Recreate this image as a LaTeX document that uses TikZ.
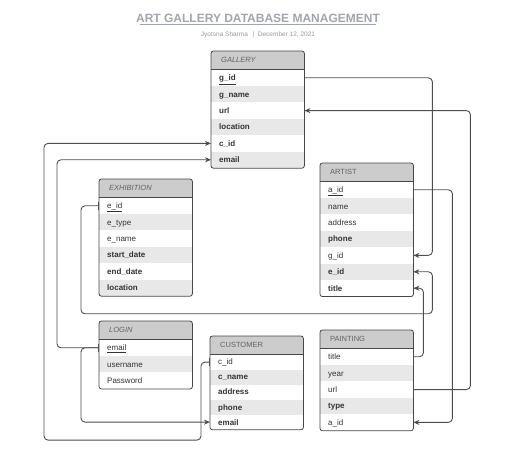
\documentclass[tikz,border=0pt]{standalone}
\usepackage{fontspec}
\setmainfont{Liberation Sans}
\usetikzlibrary{arrows.meta,calc}

\definecolor{hdrgray}{HTML}{CCCCCC}
\definecolor{rowgray}{HTML}{E8E8E8}
\definecolor{inkgray}{HTML}{333333}
\definecolor{titlegray}{HTML}{A0A5AE}
\definecolor{linegray}{HTML}{4D4D4D}

\tikzset{
  hdr/.style={anchor=north west, fill=hdrgray, minimum height=18pt, text width=73pt,
    inner xsep=10pt, inner ysep=0pt, align=left, text=black!62,
    text height=7.2pt, text depth=1.6pt, font=\fontsize{7.5}{9}\selectfont},
  row/.style={anchor=north west, text width=77pt, inner xsep=8pt, inner ysep=0pt,
    align=left, text=inkgray, text height=7.5pt, text depth=1.7pt,
    font=\fontsize{8}{9.5}\selectfont},
  tblframe/.style={draw=black!72, line width=0.8pt, rounded corners=2.5pt},
  link/.style={draw=linegray, line width=0.9pt, rounded corners=4pt,
    {Bar[width=8pt]}-{Stealth[length=6pt,width=5pt]}},
}

% テーブル: 名前, 見出し, x, y, 行の高さ, 列
\newcommand{\dbtable}[6]{%
  \node[hdr] (#1) at (#3,#4) {#2};
  \foreach \f [count=\i] in {#6}{
    \ifodd\i \def\rowfill{white}\else \def\rowfill{rowgray}\fi
    \node[row, fill=\rowfill, minimum height=#5pt] (#1-\i)
      at ($(#1.south west)+(0,{(\i-1)*#5})$) {\f};
    \xdef\lastrow{\i}
  }
  \draw[black!72, line width=0.8pt] (#1.south west) -- (#1.south east);
  \draw[tblframe] (#1.north west) rectangle (#1-\lastrow.south east);
}

\begin{document}
\begin{tikzpicture}[x=1pt,y=-1pt]
   \useasboundingbox (0,0) rectangle (517,454);

   % タイトル
   \node[text=titlegray, font=\bfseries\fontsize{12}{14}\selectfont] (title) at (258,18)
     {ART GALLERY DATABASE MANAGEMENT};
   \draw[titlegray, line width=0.8pt] ([xshift=7pt,yshift=1pt]title.south west)
     -- ([xshift=-7pt,yshift=1pt]title.south east);
   \node[text=black!40, font=\fontsize{6.5}{8}\selectfont] (sub) at (258,35)
     {Jyotsna Sharma \enspace|\enspace December 12, 2021};

   % テーブル
   \dbtable{gal}{\textit{GALLERY}}{211}{51}{16.4}
     {\underline{\textbf{g\_id}}, \textbf{g\_name}, \textbf{url}, \textbf{location}, \textbf{c\_id}, \textbf{email}}
   \dbtable{exh}{\textit{EXHIBITION}}{99}{179}{16.4}
     {\underline{e\_id}, e\_type, e\_name, \textbf{start\_date}, \textbf{end\_date}, \textbf{location}}
   \dbtable{art}{ARTIST}{320}{163}{16.4}
     {\underline{a\_id}, name, address, \textbf{phone}, g\_id, \textbf{e\_id}, \textbf{title}}
   \dbtable{log}{\textit{LOGIN}}{99}{321}{16.4}
     {\underline{email}, username, Password}
   \dbtable{cus}{CUSTOMER}{210}{336}{15}
     {c\_id, \textbf{c\_name}, \textbf{address}, \textbf{phone}, \textbf{email}}
   \dbtable{pai}{PAINTING}{320}{330}{16.4}
     {title, year, url, \textbf{type}, a\_id}

   % 関連線
   \draw[link] (gal-1.east) -- ++(128,0) |- (art-5.east);
   \draw[link] (pai-3.east) -- ++(57,0) |- (gal-3.east);
   \draw[link] (art-1.east) -- ++(39,0) |- (pai-5.east);
   \draw[link] (pai-1.east) -- ++(10,0) |- (art-7.east);
   \draw[link] (exh-1.west) -- ++(-18,0) -- ++(0,108) -| ([xshift=19pt]art-6.east) -- (art-6.east);
   \draw[link] (log-1.west) -- ++(-42,0) |- (gal-6.west);
   \draw[link] (log-1.west) -- ++(-18,0) |- (cus-5.west);
   \draw[link] (cus-1.west) -- ++(-9,0) -- ++(0,78) -- ++(-157,0) |- (gal-5.west);

\end{tikzpicture}
\end{document}
